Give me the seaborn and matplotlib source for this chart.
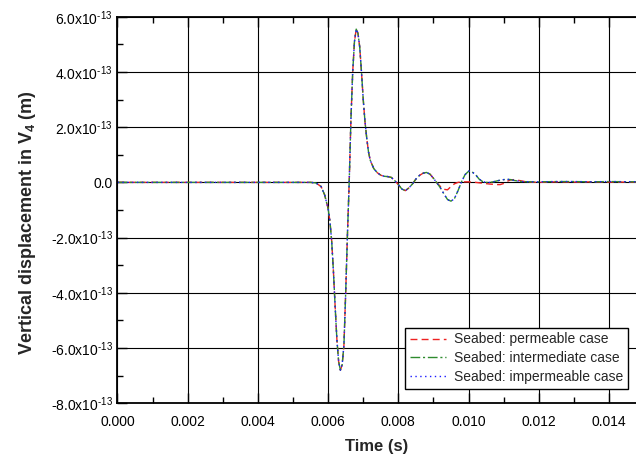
import numpy as np
import pandas as pd
import matplotlib
matplotlib.use("Agg")
import matplotlib.pyplot as plt
from matplotlib.ticker import FixedLocator, FuncFormatter
import seaborn as sns

# ---- data (displacement in units of 1e-13 m) ----
time_common = [0.0, 0.0050, 0.0055, 0.00565, 0.0058, 0.0059, 0.0060, 0.00605, 0.0061,
               0.00615, 0.0062, 0.00625, 0.0063, 0.00635, 0.0064, 0.00645, 0.0065,
               0.00655, 0.0066, 0.00665, 0.0067, 0.00675, 0.0068, 0.00685, 0.0069,
               0.00695, 0.0070, 0.00705, 0.0071, 0.00715, 0.0072, 0.0073, 0.0074,
               0.0075, 0.0076, 0.0077, 0.0078, 0.0079, 0.0080, 0.0081, 0.0082, 0.0083,
               0.0084, 0.0085, 0.0086, 0.0087, 0.0088, 0.0089, 0.0090, 0.0091]
disp_common = [0.0, 0.0, 0.0, -0.02, -0.15, -0.45, -0.95, -1.4, -2.1,
               -3.2, -4.5, -5.7, -6.5, -6.8, -6.6, -5.9, -4.0,
               -1.9, 0.0, 2.3, 4.0, 5.1, 5.55, 5.4, 4.9,
               4.0, 3.0, 2.2, 1.6, 1.1, 0.8, 0.5, 0.35,
               0.26, 0.22, 0.21, 0.18, 0.06, -0.08, -0.24, -0.30, -0.2,
               -0.06, 0.12, 0.25, 0.33, 0.36, 0.3, 0.15, -0.02]

time_tail_perm = [0.0092, 0.0093, 0.0094, 0.0095, 0.0096, 0.0097, 0.0098, 0.0100, 0.0102,
                  0.0104, 0.0106, 0.0108, 0.0109, 0.0110, 0.0111, 0.0112, 0.0113, 0.0114,
                  0.0116, 0.0118, 0.0120, 0.0125, 0.0130, 0.0135, 0.0140, 0.0148]
disp_tail_perm = [-0.15, -0.25, -0.27, -0.15, -0.05, 0.0, 0.02, 0.02, 0.0,
                  -0.03, -0.06, -0.08, -0.08, -0.04, 0.04, 0.09, 0.1, 0.08,
                  0.03, 0.01, 0.0, 0.02, 0.01, 0.02, 0.01, 0.01]

time_tail_inter = [0.0092, 0.0093, 0.0094, 0.0095, 0.0096, 0.0097, 0.0098, 0.0099, 0.0100,
                   0.0101, 0.0102, 0.0103, 0.0104, 0.0105, 0.0106, 0.0107, 0.0108, 0.0109,
                   0.0110, 0.0111, 0.0112, 0.0113, 0.0115, 0.0118, 0.0120, 0.0125, 0.0130,
                   0.0135, 0.0140, 0.0148]
disp_tail_inter = [-0.2, -0.42, -0.62, -0.68, -0.58, -0.3, 0.02, 0.28, 0.4,
                   0.38, 0.28, 0.12, 0.03, 0.0, 0.0, 0.02, 0.05, 0.08,
                   0.1, 0.11, 0.1, 0.07, 0.03, 0.02, 0.02, 0.03, 0.03,
                   0.02, 0.03, 0.02]

time_tail_imp = list(time_tail_inter)
disp_tail_imp = [-0.2, -0.42, -0.62, -0.69, -0.58, -0.3, 0.02, 0.28, 0.41,
                 0.38, 0.28, 0.12, 0.03, 0.0, 0.0, 0.02, 0.05, 0.08,
                 0.1, 0.11, 0.1, 0.07, 0.03, 0.02, 0.02, 0.03, 0.03,
                 0.02, 0.03, 0.02]

labels = ["Seabed: permeable case", "Seabed: intermediate case", "Seabed: impermeable case"]
x_major = [0.000, 0.002, 0.004, 0.006, 0.008, 0.010, 0.012, 0.014]
y_major = [-8, -6, -4, -2, 0, 2, 4, 6]
SCALE = 1e-13

frames = []
for lab, tt, dd in [(labels[0], time_tail_perm, disp_tail_perm),
                    (labels[1], time_tail_inter, disp_tail_inter),
                    (labels[2], time_tail_imp, disp_tail_imp)]:
    t = np.array(time_common + tt)
    d = np.array(disp_common + dd) * SCALE
    frames.append(pd.DataFrame({"t": t, "d": d, "case": lab}))
df = pd.concat(frames, ignore_index=True)

# ---- style ----
sns.set_style("ticks")
plt.rcParams["font.family"] = ["Liberation Sans", "DejaVu Sans"]
plt.rcParams["mathtext.fontset"] = "custom"
plt.rcParams["mathtext.rm"] = "Liberation Sans"
plt.rcParams["mathtext.it"] = "Liberation Sans:italic"
plt.rcParams["mathtext.bf"] = "Liberation Sans:bold"

fig = plt.figure(figsize=(6.36, 4.63), dpi=100)
ax = fig.add_axes([117.5 / 636, (463 - 403.3) / 463, 1 - 117.5 / 636, (403.3 - 16.7) / 463])

palette = {labels[0]: "#ee2222", labels[1]: "#2e8b2e", labels[2]: "#1a1aff"}
dashes = {labels[0]: (5, 3), labels[1]: (7, 2, 1.5, 2), labels[2]: (1, 2.5)}

sns.lineplot(data=df, x="t", y="d", hue="case", style="case", palette=palette,
             dashes=dashes, sort=False, estimator=None, linewidth=1.0, ax=ax)

ax.set_xlim(0, 0.01477)
ax.set_ylim(-8e-13, 6e-13)
ax.xaxis.set_major_locator(FixedLocator(x_major))
ax.xaxis.set_minor_locator(FixedLocator([v + 0.001 for v in x_major]))
ax.yaxis.set_major_locator(FixedLocator([v * SCALE for v in y_major]))
ax.yaxis.set_minor_locator(FixedLocator([(v + 1) * SCALE for v in y_major[:-1]]))
ax.xaxis.set_major_formatter(FuncFormatter(lambda v, p: f"{v:.3f}"))


def yfmt(v, p):
    m = v / SCALE
    if abs(m) < 1e-9:
        return "0.0"
    return f"{m:.1f}x10" + r"$^{\text{-13}}$"


ax.yaxis.set_major_formatter(FuncFormatter(yfmt))

ax.grid(True, which="major", color="black", linewidth=0.8)
ax.set_axisbelow(True)
ax.tick_params(which="both", direction="in", top=True, right=False, labelsize=10,
               colors="black")
ax.tick_params(axis="x", which="major", pad=8.5)
ax.tick_params(which="major", length=7, width=1.0)
ax.tick_params(which="minor", length=4, width=1.0)
for s in ["left", "bottom", "top"]:
    ax.spines[s].set_linewidth(1.3)
    ax.spines[s].set_color("black")
ax.spines["right"].set_visible(False)

ax.set_xlabel("Time (s)", fontsize=12, fontweight="bold", labelpad=7)
ax.set_ylabel(r"Vertical displacement in V$_\mathbf{4}$ (m)", fontsize=13, fontweight="bold")
ax.yaxis.set_label_coords(-0.153, 0.468)

leg = ax.legend(loc="lower right", bbox_to_anchor=(0.985, 0.037), borderaxespad=0,
                fontsize=10, frameon=True, fancybox=False, handlelength=2.6,
                labelspacing=0.35, borderpad=0.35, handletextpad=0.6)
leg.get_frame().set_edgecolor("black")
leg.get_frame().set_linewidth(1.0)
leg.get_frame().set_alpha(1)

fig.savefig("out.png", dpi=100)
